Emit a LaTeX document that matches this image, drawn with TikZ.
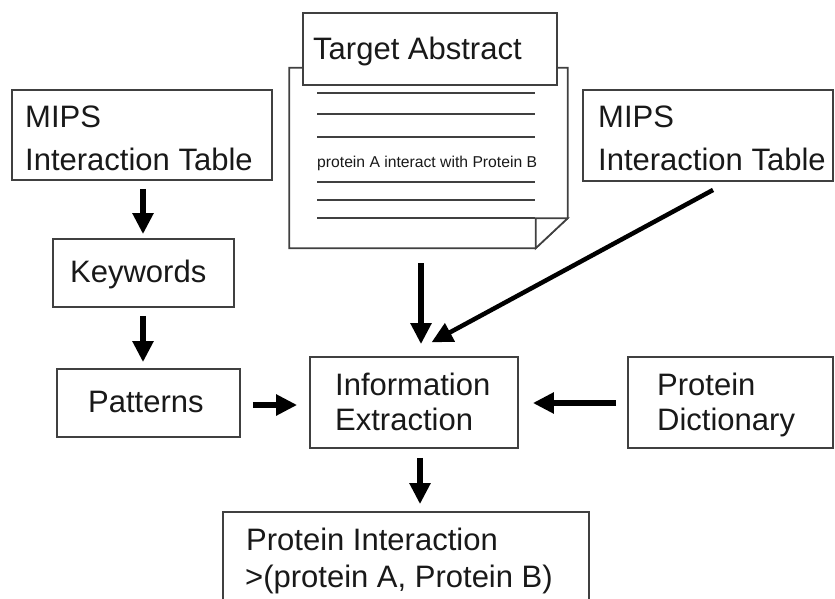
\documentclass[tikz,border=0pt]{standalone}
\usepackage{fontspec}
\setmainfont{Liberation Sans}
\usetikzlibrary{arrows.meta,calc}
\begin{document}
\begin{tikzpicture}[x=1pt,y=-1pt,
  box/.style={draw=black!75,line width=1.7pt,fill=white,inner sep=0pt},
  txt/.style={anchor=base west,inner sep=0pt,text=black!90,font=\fontsize{31}{37}\selectfont},
  small/.style={anchor=base west,inner sep=0pt,text=black!90,font=\fontsize{15.7}{18}\selectfont},
  arr/.style={line width=5.5pt,-{Triangle[length=21pt,width=20pt]}},
  rule/.style={draw=black!75,line width=1.4pt}]
\clip (0,0) rectangle (835,599);
\fill[white] (0,0) rectangle (835,599);

% document page
\node[minimum width=278pt,minimum height=180pt,inner sep=0pt] (doc) at (428.5,158) {};
\draw[box] (doc.north west) -- (doc.north east) -- ($(doc.south east)+(0,-30)$)
  -- ($(doc.south east)+(-32,0)$) -- (doc.south west) -- cycle;
\draw[box] ($(doc.south east)+(-32,-30)$) -- ($(doc.south east)+(0,-30)$)
  -- ($(doc.south east)+(-32,0)$) -- cycle;
\foreach \yy in {93,114,137,182,200,218}
  \draw[rule] (317,\yy) -- (535,\yy);
\node[small] (sent) at (317,167) {protein A interact with Protein B};

% title box
\node[box,minimum width=254pt,minimum height=72pt] (ta) at (430,49) {};
\node[txt] (tat) at (313,60) {Target Abstract};

% left MIPS
\node[box,minimum width=260pt,minimum height=90pt] (mipsL) at (142,135) {};
\node[txt] (mipsL1) at (25,128) {MIPS};
\node[txt] (mipsL2) at (25,171) {Interaction Table};

% right MIPS
\node[box,minimum width=250pt,minimum height=91pt] (mipsR) at (708,135.5) {};
\node[txt] (mipsR1) at (598,128) {MIPS};
\node[txt] (mipsR2) at (598,171) {Interaction Table};

% keywords
\node[box,minimum width=181pt,minimum height=68pt] (kw) at (143.5,273) {};
\node[txt] (kwt) at (70,282) {Keywords};

% patterns
\node[box,minimum width=183pt,minimum height=68pt] (pat) at (148.5,403) {};
\node[txt] (patt) at (88,412) {Patterns};

% information extraction
\node[box,minimum width=208pt,minimum height=91pt] (ie) at (414,402.5) {};
\node[txt] (ie1) at (335,395) {Information};
\node[txt] (ie2) at (335,430) {Extraction};

% protein dictionary
\node[box,minimum width=205pt,minimum height=91pt] (dict) at (730.5,402.5) {};
\node[txt] (d1) at (657,395) {Protein};
\node[txt] (d2) at (657,430) {Dictionary};

% protein interaction
\node[box,minimum width=366pt,minimum height=108pt] (pi) at (406,566) {};
\node[txt] (pi1) at (246,550) {Protein Interaction};
\node[txt] (pi2) at (245,587) {>(protein A, Protein B)};

% arrows
\draw[arr,shorten <=8pt,shorten >=4pt] ($(mipsL.south)+(1,0)$) -- ($(kw.north)+(-0.5,0)$);
\draw[arr,shorten <=8pt,shorten >=6pt] ($(kw.south)+(-0.5,0)$) -- ($(pat.north)+(-5.5,0)$);
\draw[arr,shorten <=12pt,shorten >=12pt] ($(pat.east)+(0,2)$) -- ($(ie.west)+(0,2.5)$);
\draw[arr,shorten <=11pt,shorten >=14pt] ($(dict.west)+(0,0.5)$) -- ($(ie.east)+(0,0.5)$);
\draw[arr,shorten <=15pt,shorten >=12pt] ($(doc.south)+(-7.5,0)$) -- ($(ie.north)+(7,0)$);
\draw[arr,line width=4.5pt,shorten <=17pt,shorten >=29pt] ($(mipsR.south)+(20,0)$) -- ($(ie.north)+(-8,0)$);
\draw[arr,shorten <=9pt,shorten >=7pt] ($(ie.south)+(6,0)$) -- ($(pi.north)+(14,0)$);
\end{tikzpicture}
\end{document}
